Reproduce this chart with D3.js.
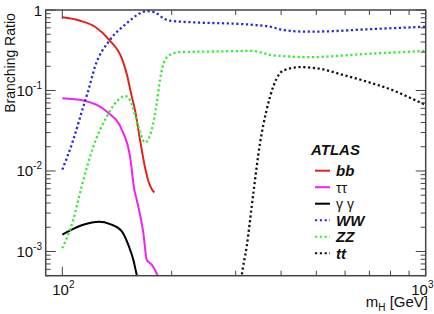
<!DOCTYPE html>
<html>
<head>
<meta charset="utf-8">
<script src="https://cdn.jsdelivr.net/npm/d3@7"></script>
<style>
  body { margin: 0; background: #fff; }
  text { font-family: "Liberation Sans", Arial, sans-serif; fill: #111; }
</style>
</head>
<body>
<svg id="chart" width="434" height="314"></svg>
<script>
// Higgs branching ratios vs mass
const bbMass = [100, 111.9, 123, 135, 145.8, 150.7, 154.5, 158.5, 163.6, 168.9, 173.2, 176.5, 179.1];
const bbBR = [0.81, 0.736, 0.62, 0.42, 0.25, 0.156, 0.093, 0.057, 0.0244, 0.011, 0.0071, 0.0059, 0.0054];

const tautauMass = [100, 114.2, 132.5, 145.8, 153.6, 157.8, 160.2, 167.1, 170.7, 176.2, 182.5, 186];
const tautauBR = [0.080, 0.075, 0.0547, 0.0325, 0.0151, 0.00585, 0.0044, 0.0017, 0.00079, 0.000686, 0.000515, 0.00042];

const gagaMass = [100, 103.9, 114.2, 126.4, 135.3, 145.8, 151.9, 156.8, 160.2, 162];
const gagaBR = [0.00162, 0.00178, 0.00215, 0.00234, 0.00219, 0.00178, 0.00121, 0.00079, 0.000515, 0.00042];

const wwMass = [100, 107.2, 114.2, 117.9, 123, 135, 150.4, 163.6, 170.7, 180, 189.7, 197.8, 234, 300, 340, 373, 406, 470, 550, 688, 850, 1000];
const wwBR = [0.0104, 0.0244, 0.063, 0.1, 0.198, 0.42, 0.684, 0.91, 0.97, 0.93, 0.79, 0.736, 0.70, 0.675, 0.65, 0.62, 0.565, 0.538, 0.545, 0.576, 0.60, 0.62];

const zzMass = [100, 107.2, 113, 121.7, 132.5, 144.2, 148.8, 153.6, 161.9, 168.9, 176.2, 181.9, 185.6, 191.8, 197.8, 210.8, 260, 335, 372.8, 420, 470, 688, 1000];
const zzBR = [0.0011, 0.00248, 0.0064, 0.0201, 0.0475, 0.080, 0.0857, 0.076, 0.0357, 0.0226, 0.0325, 0.0695, 0.135, 0.24, 0.277, 0.30, 0.305, 0.31, 0.277, 0.265, 0.259, 0.285, 0.31];

const ttMass = [308, 311.6, 321.7, 335.5, 350, 365, 380.7, 397, 410, 451, 501, 593, 688, 815, 934.5, 1000];
const ttBR = [0.0003, 0.00049, 0.00116, 0.0053, 0.0222, 0.0575, 0.112, 0.164, 0.180, 0.195, 0.189, 0.156, 0.129, 0.1, 0.076, 0.066];

const yTickLabels = [['1', ''], ['10', '-1'], ['10', '-2'], ['10', '-3']];
const xTickLabels = [['10', '2'], ['10', '3']];

const series = [
  { label: 'bb', mass: bbMass, br: bbBR, color: '#e8201c', dash: null, bold: true },
  { label: 'ττ', mass: tautauMass, br: tautauBR, color: '#f022f0', dash: null, bold: false },
  { label: 'γ γ', mass: gagaMass, br: gagaBR, color: '#000000', dash: null, bold: false },
  { label: 'WW', mass: wwMass, br: wwBR, color: '#2828d8', dash: '2.2,2.6', bold: true },
  { label: 'ZZ', mass: zzMass, br: zzBR, color: '#33ee33', dash: '2.2,2.6', bold: true },
  { label: 'tt', mass: ttMass, br: ttBR, color: '#111111', dash: '2.2,2.6', bold: true }
];

const plotL = 45.7, plotR = 425.7, plotT = 10, plotB = 275.7;

const x = d3.scaleLog().domain([90, 1000]).range([plotL, plotR]);
const y = d3.scaleLog().domain([5e-4, 1]).range([plotB, plotT]);

const svg = d3.select('#chart');

svg.append('clipPath').attr('id', 'plot-clip')
  .append('rect')
  .attr('x', plotL).attr('y', plotT)
  .attr('width', plotR - plotL).attr('height', plotB - plotT);

// curves
const line = d3.line()
  .x(d => x(d[0]))
  .y(d => y(d[1]))
  .curve(d3.curveMonotoneX);

const curves = svg.append('g').attr('clip-path', 'url(#plot-clip)');
series.forEach(s => {
  curves.append('path')
    .attr('d', line(s.mass.map((m, i) => [m, s.br[i]])))
    .attr('fill', 'none')
    .attr('stroke', s.color)
    .attr('stroke-width', s.dash ? 2.3 : 2)
    .attr('stroke-dasharray', s.dash);
});

// frame and ticks
const axisColor = '#444';
const axes = svg.append('g').attr('stroke', axisColor);

const isMajor = v => Math.abs(Math.log10(v) - Math.round(Math.log10(v))) < 1e-6;

y.ticks().forEach(v => {
  const len = isMajor(v) ? 10 : 5;
  const py = y(v);
  axes.append('line').attr('x1', plotL).attr('x2', plotL + len).attr('y1', py).attr('y2', py);
  axes.append('line').attr('x1', plotR).attr('x2', plotR - len).attr('y1', py).attr('y2', py);
});

x.ticks().filter(v => v >= 100).forEach(v => {
  const len = isMajor(v) ? 9 : 5;
  const px = x(v);
  axes.append('line').attr('x1', px).attr('x2', px).attr('y1', plotB).attr('y2', plotB - len);
  axes.append('line').attr('x1', px).attr('x2', px).attr('y1', plotT).attr('y2', plotT + len);
});

axes.append('rect')
  .attr('x', plotL).attr('y', plotT)
  .attr('width', plotR - plotL).attr('height', plotB - plotT)
  .attr('fill', 'none')
  .attr('stroke-width', 1.5);

// tick labels
const yMajors = [1, 0.1, 0.01, 0.001];
yMajors.forEach((v, i) => {
  const t = svg.append('text')
    .attr('x', 42)
    .attr('y', y(v) + 5.5)
    .attr('text-anchor', 'end')
    .style('font-size', '15px');
  t.append('tspan').text(yTickLabels[i][0]);
  if (yTickLabels[i][1]) {
    t.append('tspan').attr('dy', -7).style('font-size', '10px').text(yTickLabels[i][1]);
  }
});

[100, 1000].forEach((v, i) => {
  const last = i === 1;
  const t = svg.append('text')
    .attr('x', last ? 433.5 : x(v) + 1)
    .attr('y', 295)
    .attr('text-anchor', last ? 'end' : 'middle')
    .style('font-size', '15px');
  t.append('tspan').text(xTickLabels[i][0]);
  t.append('tspan').attr('dy', -7).style('font-size', '10px').text(xTickLabels[i][1]);
});

// axis titles
svg.append('text')
  .attr('transform', 'translate(15,63) rotate(-90)')
  .attr('text-anchor', 'middle')
  .style('font-size', '14px')
  .text('Branching Ratio');

const xt = svg.append('text')
  .attr('x', 428)
  .attr('y', 307)
  .attr('text-anchor', 'end')
  .style('font-size', '15px');
xt.append('tspan').text('m');
xt.append('tspan').attr('dy', 4).style('font-size', '10px').text('H');
xt.append('tspan').attr('dy', -4).text(' [GeV]');

// legend
svg.append('text')
  .attr('x', 311)
  .attr('y', 155)
  .style('font-size', '15px')
  .style('font-weight', 'bold')
  .style('font-style', 'italic')
  .text('ATLAS');

const legend = svg.append('g');
series.forEach((s, i) => {
  const ly = 170.7 + i * 16.5;
  legend.append('line')
    .attr('x1', 315).attr('x2', 330)
    .attr('y1', ly).attr('y2', ly)
    .attr('stroke', s.color)
    .attr('stroke-width', 2)
    .attr('stroke-dasharray', s.dash);
  legend.append('text')
    .attr('x', 336)
    .attr('y', ly + 5.5)
    .style('font-size', s.bold ? '15px' : '14px')
    .style('font-weight', s.bold ? 'bold' : 'normal')
    .style('font-style', s.bold ? 'italic' : 'normal')
    .text(s.label);
});
</script>
</body>
</html>
